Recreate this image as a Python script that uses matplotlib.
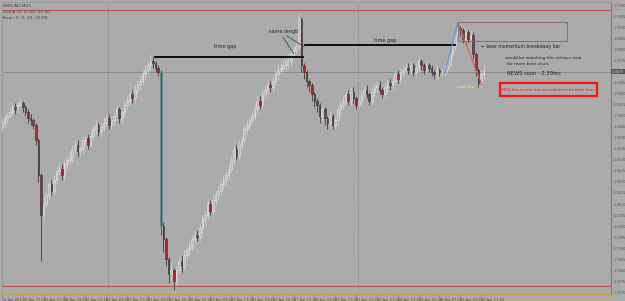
import matplotlib
matplotlib.use('Agg')
import matplotlib.pyplot as plt
from matplotlib.patches import Rectangle

# USDCAD M15 candles
first_open = 1.3645
closes = [1.3647, 1.3649, 1.3650, 1.3652, 1.3654, 1.3653, 1.3655, 1.3656, 1.3654, 1.3652, 1.3649,
          1.3648, 1.3646, 1.3639, 1.3623, 1.3605,
          1.3610, 1.3614, 1.3619, 1.3616, 1.3621, 1.3625, 1.3626, 1.3623, 1.3628, 1.3630,
          1.3631, 1.3635, 1.3637, 1.3634, 1.3635, 1.3639, 1.3640, 1.3637, 1.3641, 1.3644, 1.3646, 1.3643, 1.3645,
          1.3647, 1.3649, 1.3646, 1.3648, 1.3650, 1.3653, 1.3649, 1.3652, 1.3655, 1.3657, 1.3660, 1.3658, 1.3662,
          1.3664, 1.3666, 1.3669, 1.3671, 1.3673, 1.3675, 1.3674,
          1.3672, 1.3670,
          1.3600,
          1.3594, 1.3585, 1.3578, 1.3580, 1.3575,
          1.3580, 1.3584, 1.3582, 1.3587, 1.3589, 1.3591, 1.3594, 1.3596, 1.3595, 1.3599, 1.3603, 1.3605, 1.3610,
          1.3607, 1.3612, 1.3614, 1.3616, 1.3619, 1.3621,
          1.3623, 1.3626, 1.3630, 1.3635, 1.3632, 1.3637, 1.3639, 1.3644, 1.3646, 1.3648, 1.3650, 1.3653, 1.3657,
          1.3655, 1.3660, 1.3662, 1.3664, 1.3663, 1.3666, 1.3669, 1.3671, 1.3672, 1.3673, 1.3675, 1.3675,
          1.3678, 1.3680, 1.3682, 1.3694, 1.3673,
          1.3670, 1.3666, 1.3664, 1.3660, 1.3657, 1.3655, 1.3650, 1.3653, 1.3649, 1.3647, 1.3650, 1.3646, 1.3648,
          1.3653, 1.3655, 1.3657, 1.3660, 1.3657, 1.3661, 1.3658, 1.3655, 1.3657, 1.3660, 1.3662, 1.3660, 1.3657,
          1.3661, 1.3663, 1.3664, 1.3662, 1.3660, 1.3663, 1.3665, 1.3664, 1.3666, 1.3669, 1.3667, 1.3670, 1.3671,
          1.3672,
          1.3671, 1.3673, 1.3670, 1.3672, 1.3675, 1.3673, 1.3671, 1.3673, 1.3672, 1.3670, 1.3669, 1.3671, 1.3670,
          1.3670, 1.3671,
          1.3673, 1.3678, 1.3682, 1.3687, 1.3690,
          1.3689, 1.3685, 1.3688, 1.3685, 1.3687,
          1.3678, 1.3671, 1.3665,
          1.3669, 1.3671]
highs = [1.3649, 1.3651, 1.3652, 1.3654, 1.3656, 1.3656, 1.3657, 1.3658, 1.3657, 1.3655, 1.3653,
         1.3651, 1.3649, 1.3647, 1.3640, 1.3624,
         1.3613, 1.3616, 1.3621, 1.3621, 1.3623, 1.3627, 1.3629, 1.3628, 1.3630, 1.3632,
         1.3634, 1.3637, 1.3639, 1.3639, 1.3637, 1.3641, 1.3642, 1.3642, 1.3643, 1.3646, 1.3648, 1.3647, 1.3647,
         1.3649, 1.3651, 1.3651, 1.3650, 1.3652, 1.3655, 1.3654, 1.3654, 1.3657, 1.3659, 1.3662, 1.3662, 1.3664,
         1.3666, 1.3668, 1.3671, 1.3673, 1.3675, 1.3678, 1.3677,
         1.3675, 1.3673,
         1.3671,
         1.3602, 1.3595, 1.3586, 1.3583, 1.3581,
         1.3582, 1.3586, 1.3587, 1.3589, 1.3591, 1.3593, 1.3596, 1.3598, 1.3598, 1.3601, 1.3605, 1.3607, 1.3612,
         1.3612, 1.3614, 1.3616, 1.3618, 1.3621, 1.3623,
         1.3625, 1.3628, 1.3632, 1.3637, 1.3637, 1.3639, 1.3641, 1.3646, 1.3648, 1.3650, 1.3652, 1.3655, 1.3659,
         1.3659, 1.3662, 1.3664, 1.3666, 1.3666, 1.3668, 1.3671, 1.3673, 1.3675, 1.3676, 1.3677, 1.3678,
         1.3680, 1.3682, 1.3684, 1.3697, 1.3695,
         1.3674, 1.3671, 1.3667, 1.3665, 1.3661, 1.3658, 1.3656, 1.3655, 1.3654, 1.3650, 1.3652, 1.3651, 1.3650,
         1.3655, 1.3657, 1.3659, 1.3662, 1.3662, 1.3663, 1.3663, 1.3659, 1.3659, 1.3662, 1.3664, 1.3664, 1.3661,
         1.3663, 1.3665, 1.3666, 1.3666, 1.3663, 1.3665, 1.3667, 1.3667, 1.3668, 1.3671, 1.3671, 1.3672, 1.3673,
         1.3674,
         1.3674, 1.3675, 1.3674, 1.3674, 1.3677, 1.3676, 1.3674, 1.3675, 1.3674, 1.3673, 1.3671, 1.3673, 1.3672,
         1.3672, 1.3673,
         1.3675, 1.3680, 1.3684, 1.3689, 1.3692,
         1.3691, 1.3690, 1.3690, 1.3689, 1.3689,
         1.3688, 1.3679, 1.3672,
         1.3671, 1.3673]
lows = [1.3643, 1.3645, 1.3647, 1.3649, 1.3651, 1.3651, 1.3652, 1.3654, 1.3652, 1.3650, 1.3647,
        1.3646, 1.3644, 1.3637, 1.3620, 1.3584,
        1.3602, 1.3608, 1.3612, 1.3614, 1.3614, 1.3619, 1.3623, 1.3621, 1.3621, 1.3626,
        1.3628, 1.3629, 1.3633, 1.3632, 1.3632, 1.3633, 1.3637, 1.3635, 1.3636, 1.3639, 1.3642, 1.3641, 1.3641,
        1.3643, 1.3645, 1.3644, 1.3644, 1.3646, 1.3648, 1.3647, 1.3647, 1.3650, 1.3653, 1.3655, 1.3656, 1.3656,
        1.3660, 1.3662, 1.3664, 1.3667, 1.3669, 1.3671, 1.3672,
        1.3670, 1.3668,
        1.3596,
        1.3588, 1.3582, 1.3574, 1.3575, 1.3571,
        1.3573, 1.3578, 1.3579, 1.3580, 1.3585, 1.3587, 1.3589, 1.3592, 1.3593, 1.3593, 1.3597, 1.3601, 1.3603,
        1.3605, 1.3605, 1.3610, 1.3612, 1.3614, 1.3617,
        1.3619, 1.3621, 1.3624, 1.3628, 1.3630, 1.3630, 1.3635, 1.3637, 1.3642, 1.3644, 1.3646, 1.3648, 1.3651,
        1.3653, 1.3653, 1.3658, 1.3660, 1.3661, 1.3661, 1.3664, 1.3667, 1.3669, 1.3670, 1.3671, 1.3672,
        1.3673, 1.3676, 1.3678, 1.3680, 1.3670,
        1.3667, 1.3663, 1.3661, 1.3657, 1.3654, 1.3652, 1.3647, 1.3648, 1.3646, 1.3644, 1.3645, 1.3644, 1.3644,
        1.3646, 1.3651, 1.3653, 1.3655, 1.3655, 1.3655, 1.3656, 1.3653, 1.3653, 1.3655, 1.3658, 1.3658, 1.3655,
        1.3655, 1.3659, 1.3661, 1.3660, 1.3658, 1.3658, 1.3661, 1.3662, 1.3662, 1.3664, 1.3665, 1.3665, 1.3668,
        1.3669,
        1.3669, 1.3669, 1.3668, 1.3668, 1.3670, 1.3671, 1.3669, 1.3669, 1.3670, 1.3668, 1.3667, 1.3667, 1.3668,
        1.3668, 1.3668,
        1.3669, 1.3672, 1.3676, 1.3680, 1.3685,
        1.3686, 1.3683, 1.3683, 1.3683, 1.3683,
        1.3676, 1.3668, 1.3663,
        1.3663, 1.3667]
new_low_bars = [61]

price_ticks = [1.3570 + 0.0005 * k for k in range(27)]
time_labels = ['26 Apr 2017', '26 Apr 15:45', '26 Apr 17:45', '26 Apr 19:45', '26 Apr 21:45',
               '26 Apr 23:45', '27 Apr 01:45', '27 Apr 03:45', '27 Apr 05:45', '27 Apr 07:45',
               '27 Apr 09:45', '27 Apr 11:45', '27 Apr 13:45', '27 Apr 15:45', '27 Apr 17:45',
               '27 Apr 19:45', '27 Apr 21:45', '27 Apr 23:45', '28 Apr 01:45', '28 Apr 03:45',
               '28 Apr 05:45', '28 Apr 07:45', '28 Apr 09:45', '28 Apr 11:45']
bid = 1.3670

bg = '#ababab'
fig = plt.figure(figsize=(6.25, 3.01), dpi=100, facecolor=bg)
ax = fig.add_axes([2 / 625, 7 / 301, 609 / 625, 292 / 301], facecolor=bg)

opens = [first_open] + closes[:-1]
for i, (o, h, l, c) in enumerate(zip(opens, highs, lows, closes)):
    if c >= o:
        ax.vlines(i, l, h, color='#d6d6d6', lw=0.5, zorder=3)
        ax.bar(i, max(c - o, 0.00002), bottom=o, width=0.62, facecolor='#b8b8b8',
               edgecolor='#e2e2e2', lw=0.45, zorder=4)
    else:
        edge = '#4a9a98' if i in new_low_bars else '#3c3c3c'
        ax.vlines(i, l, h, color='#3c3c3c', lw=0.6, zorder=3)
        ax.bar(i, o - c, bottom=c, width=0.62, facecolor='#b3262c',
               edgecolor=edge, lw=0.5, zorder=4)

ax.set_xlim(0, 233.9)
ax.set_ylim(1.35691, 1.37018)

# terminal lines
ax.axhline(1.36982, color='#c0504d', lw=0.8, zorder=2)
ax.axhline(1.35727, color='#c0504d', lw=0.8, zorder=2)
ax.axhline(bid, color='#8c8c8c', lw=0.7, zorder=2)
for x in [40.9, 136.9]:
    ax.axvline(x, color='#777777', lw=0.6, ls=(0, (1, 1.5)), zorder=1)

# time gap lines
ax.plot([58.8, 115.6], [1.36768, 1.36768], color='black', lw=1.3, zorder=6)
ax.plot([116.4, 174.0], [1.36823, 1.36823], color='black', lw=1.3, zorder=6)
ax.text(85.6, 1.36814, 'time gap', fontsize=3.6, color='#222222', ha='center', va='center')
ax.text(147.1, 1.36845, 'time gap', fontsize=3.6, color='#222222', ha='center', va='center')
ax.text(108.5, 1.36886, 'same length', fontsize=3.6, color='#222222', ha='center', va='center')
ax.plot([107.9, 112.1], [1.36859, 1.36782], color='#333333', lw=0.5, zorder=6)
ax.plot([109.4, 116.0], [1.36864, 1.36814], color='#333333', lw=0.5, zorder=6)

# swing lines and box
ax.plot([170.1, 175.1], [1.36695, 1.36923], color='#5b8fd6', lw=0.8, zorder=6)
ax.plot([175.1, 184.3], [1.36923, 1.36641], color='#d0605a', lw=0.8, zorder=6)
ax.add_patch(Rectangle((175.1, 1.36841), 41.8, 0.00086, fill=False,
                       edgecolor='#8a6a6a', lw=0.7, zorder=6))
ax.text(184.0, 1.36814, '\u2190 bear momentum breakaway bar', fontsize=3.3,
        color='#222222', ha='left', va='center')
ax.text(193.2, 1.36764, 'would be watching this retrace now', fontsize=3.1,
        color='#222222', ha='left', va='center')
ax.text(193.9, 1.36736, 'for more bear clues', fontsize=3.1,
        color='#222222', ha='left', va='center')
ax.text(193.9, 1.36691, 'NEWS soon - 2.30hrs', fontsize=3.7,
        color='#222222', ha='left', va='center')
ax.text(178.2, 1.36632, 'new low', fontsize=3.2, color='#f0f060', ha='center', va='center')
ax.add_patch(Rectangle((191.2, 1.36591), 37.3, 0.00059, fill=False,
                       edgecolor='#ff1010', lw=1.6, zorder=6))
ax.text(209.8, 1.36620, 'M15 has a new low so coloured the bear bars', fontsize=2.95,
        color='#e02020', ha='center', va='center')

# header text
fig.text(3 / 625, 1 - 6 / 301, 'USDCAD,M15', fontsize=3.2, color='#444444', va='center')
fig.text(3 / 625, 1 - 12 / 301, 'Comp: 0, 0, 20, 20.00', fontsize=3.2, color='#444444', va='center')
fig.text(3 / 625, 1 - 18 / 301, 'Bear: 0, 0, 20, 20.00', fontsize=3.2, color='#444444', va='center')

# axes
ax.yaxis.tick_right()
ax.set_yticks(price_ticks)
ax.set_yticklabels(['' if abs(p - bid) < 1e-6 else '%.4f' % p for p in price_ticks])
ax.tick_params(axis='y', labelsize=2.5, labelcolor='#555555', color='#777777',
               length=1.0, width=0.5, pad=0.6, direction='out')
ax.set_xticks([8 * k for k in range(len(time_labels))])
ax.set_xticklabels(time_labels, ha='left')
ax.tick_params(axis='x', labelsize=2.5, labelcolor='#555555', color='#777777',
               length=2, width=0.5, pad=1.0, direction='out')
for s in ['left', 'top']:
    ax.spines[s].set_color('#999999')
    ax.spines[s].set_linewidth(0.6)
ax.spines['right'].set_color('#7a7a7a')
ax.spines['right'].set_linewidth(0.8)
ax.spines['bottom'].set_color('#d09a3a')
ax.spines['bottom'].set_linewidth(1.0)

ax.text(1.001, bid, '%.4f' % bid, transform=ax.get_yaxis_transform(), fontsize=2.5,
        color='#dddddd', ha='left', va='center',
        bbox=dict(boxstyle='square,pad=0.15', fc='#555555', ec='none'))

fig.savefig('out.png', dpi=100, facecolor=bg)
